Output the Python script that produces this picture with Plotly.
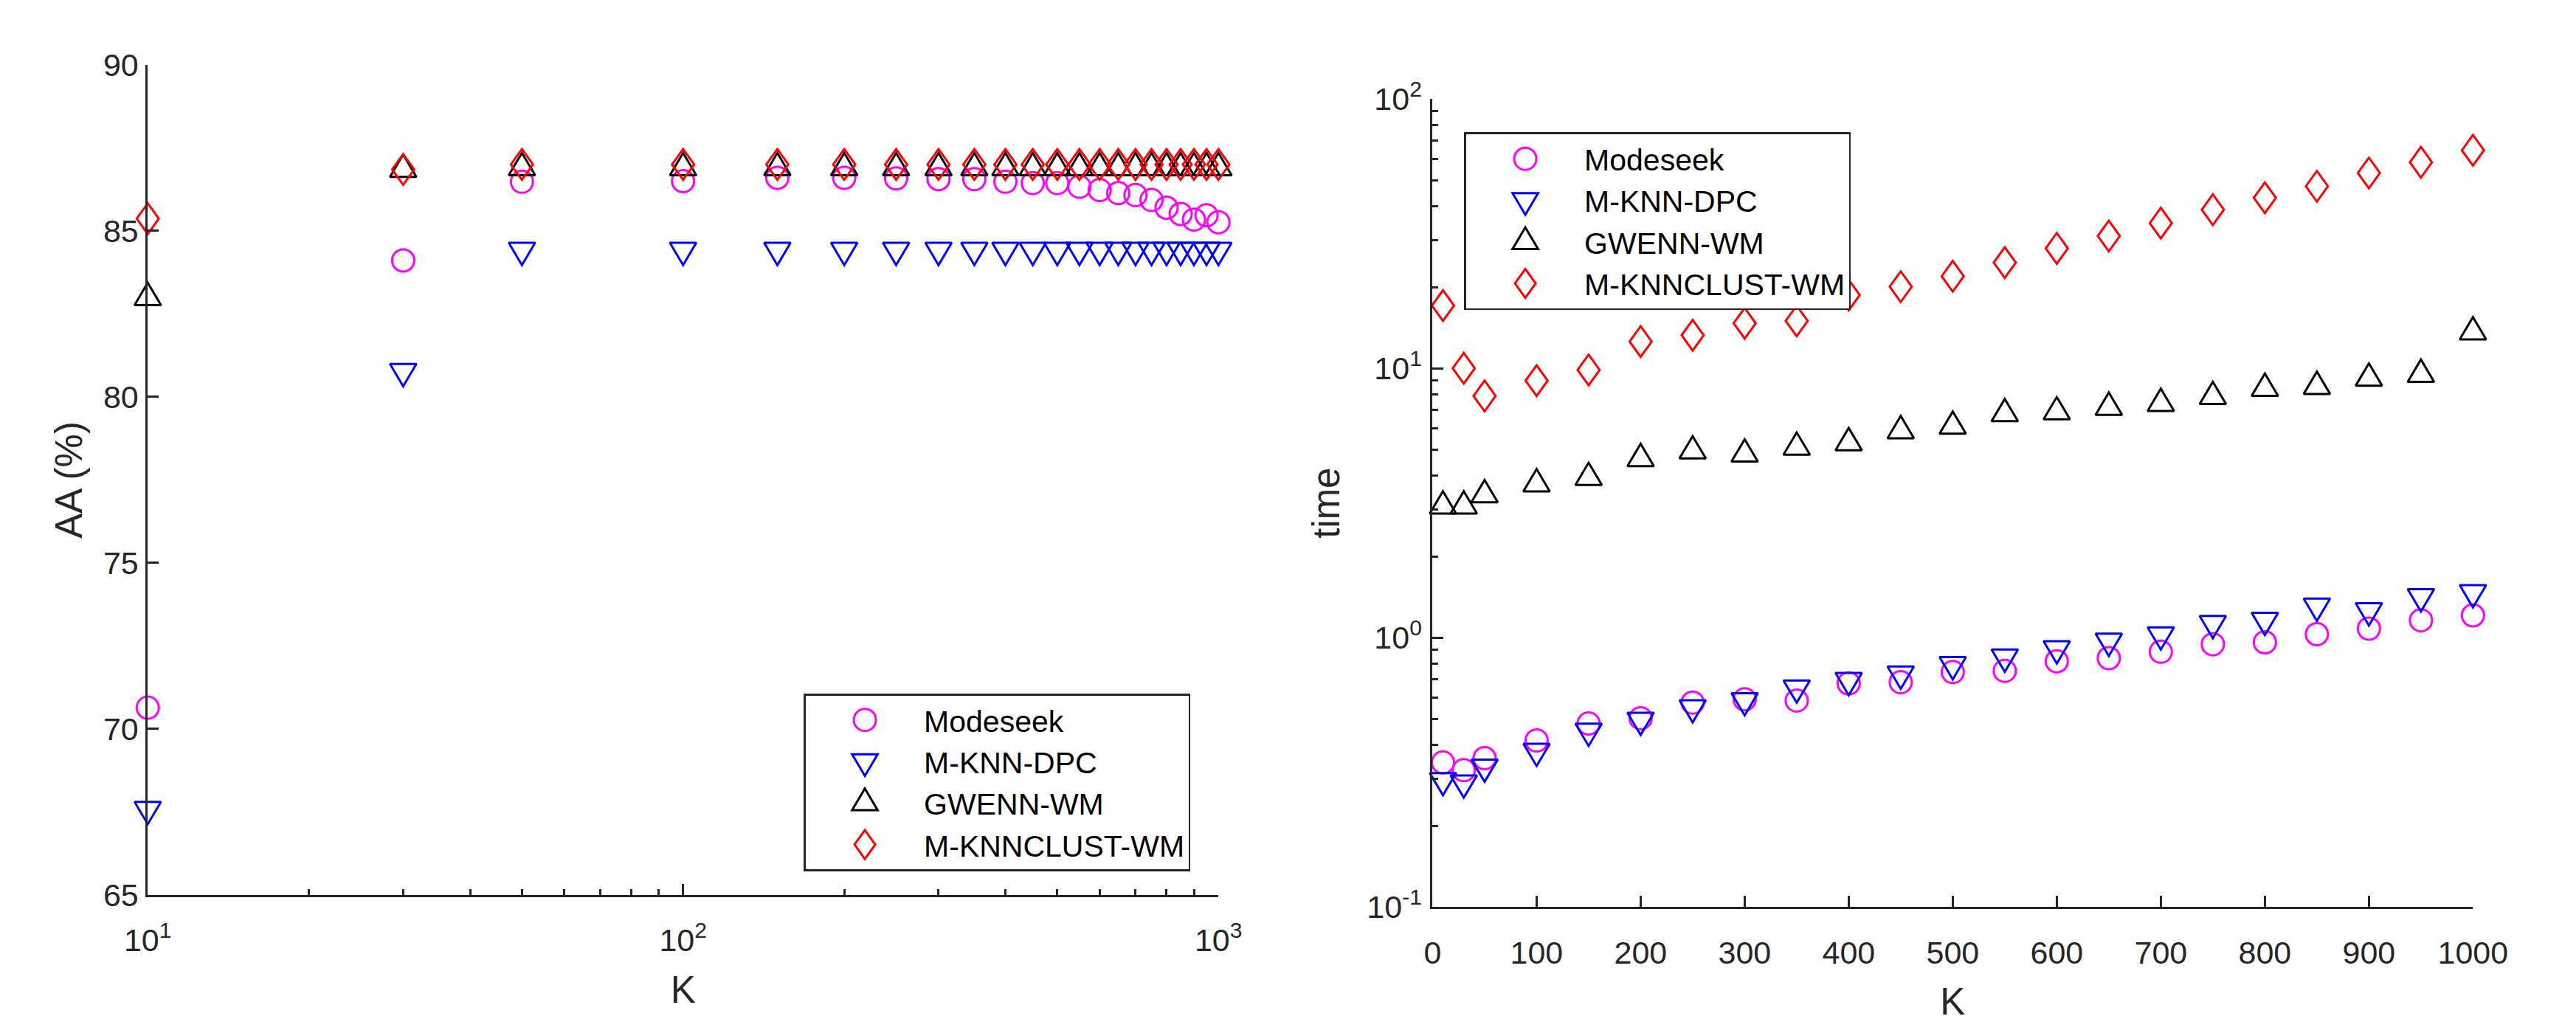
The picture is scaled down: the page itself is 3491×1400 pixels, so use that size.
import plotly.graph_objects as go

# ---------------- data ----------------
K_LEFT = [10, 30, 50, 100, 150, 200, 250, 300, 350, 400, 450, 500, 550, 600, 650, 700, 750, 800, 850, 900, 950, 1000]
AA_MODESEEK = [70.64, 84.11, 86.48, 86.50, 86.60, 86.60, 86.58, 86.56, 86.56, 86.48, 86.44, 86.44, 86.33, 86.23, 86.14, 86.08, 85.93, 85.70, 85.51, 85.34, 85.47, 85.26]
AA_MKNNDPC = [67.58, 80.77, 84.42, 84.42, 84.42, 84.42, 84.42, 84.42, 84.42, 84.42, 84.42, 84.42, 84.42, 84.42, 84.42, 84.42, 84.42, 84.42, 84.42, 84.42, 84.42, 84.42]
AA_GWENN = [82.99, 86.85, 86.90, 86.90, 86.90, 86.90, 86.90, 86.90, 86.90, 86.90, 86.90, 86.90, 86.90, 86.90, 86.90, 86.90, 86.90, 86.90, 86.90, 86.90, 86.90, 86.90]
AA_MKNNCLUST = [85.37, 86.85, 87.00, 87.00, 87.00, 87.00, 87.00, 87.00, 87.00, 87.00, 87.00, 87.00, 87.00, 87.00, 87.00, 87.00, 87.00, 87.00, 87.00, 87.00, 87.00, 87.00]

K_RIGHT = [10, 30, 50, 100, 150, 200, 250, 300, 350, 400, 450, 500, 550, 600, 650, 700, 750, 800, 850, 900, 950, 1000]
T_MODESEEK = [0.344, 0.322, 0.357, 0.415, 0.48, 0.502, 0.574, 0.59, 0.584, 0.676, 0.683, 0.745, 0.753, 0.817, 0.839, 0.886, 0.945, 0.961, 1.03, 1.08, 1.16, 1.21]
T_MKNNDPC = [0.295, 0.289, 0.331, 0.379, 0.45, 0.494, 0.55, 0.584, 0.651, 0.694, 0.733, 0.795, 0.848, 0.91, 0.971, 1.025, 1.13, 1.16, 1.31, 1.26, 1.42, 1.47]
T_GWENN = [3.08, 3.08, 3.39, 3.72, 3.93, 4.62, 4.93, 4.80, 5.09, 5.29, 5.86, 6.09, 6.78, 6.89, 7.16, 7.40, 7.85, 8.42, 8.56, 9.19, 9.49, 13.64]
T_MKNNCLUST = [17.1, 10.0, 7.89, 9.0, 9.86, 12.57, 13.27, 14.7, 15.0, 18.7, 20.1, 21.96, 24.7, 27.9, 31.0, 34.6, 38.8, 42.95, 47.4, 53.1, 58.2, 64.5]

SERIES_NAMES = ["Modeseek", "M-KNN-DPC", "GWENN-WM", "M-KNNCLUST-WM"]
COLORS = ["#FF00FF", "#0000FF", "#000000", "#FF0000"]
SYMBOLS = ["circle-open", "triangle-down-open", "triangle-up-open", "diamond-open"]
SIZES = [30, 31, 31, 32]

LEFT_Y_TICKS = [65, 70, 75, 80, 85, 90]
LEFT_X_TICKS = [10, 100, 1000]
LEFT_X_TICKTEXT = ["10<sup>1</sup>", "10<sup>2</sup>", "10<sup>3</sup>"]
LEFT_X_MINOR = [20, 30, 40, 50, 60, 70, 80, 90, 200, 300, 400, 500, 600, 700, 800, 900]
RIGHT_X_TICKS = [0, 100, 200, 300, 400, 500, 600, 700, 800, 900, 1000]
RIGHT_Y_TICKS = [0.1, 1, 10, 100]
RIGHT_Y_TICKTEXT = ["10<sup>-1</sup>", "10<sup>0</sup>", "10<sup>1</sup>", "10<sup>2</sup>"]
RIGHT_Y_MINOR = [m * d for d in (0.1, 1, 10) for m in range(2, 10)]

# ---------------- figure ----------------
W, H = 3491, 1400
FONT = "Liberation Sans, Arial, Helvetica, sans-serif"
AXC = "#262626"
fig = go.Figure()

left_vals = [AA_MODESEEK, AA_MKNNDPC, AA_GWENN, AA_MKNNCLUST]
right_vals = [T_MODESEEK, T_MKNNDPC, T_GWENN, T_MKNNCLUST]

for name, col, sym, sz, ys in zip(SERIES_NAMES, COLORS, SYMBOLS, SIZES, left_vals):
    fig.add_trace(go.Scatter(
        x=K_LEFT, y=ys, mode="markers", name=name, legend="legend",
        xaxis="x", yaxis="y", cliponaxis=False,
        marker=dict(symbol=sym, size=sz, color=col, line=dict(color=col, width=3)),
    ))

for name, col, sym, sz, ys in zip(SERIES_NAMES, COLORS, SYMBOLS, SIZES, right_vals):
    fig.add_trace(go.Scatter(
        x=K_RIGHT, y=ys, mode="markers", name=name, legend="legend2",
        xaxis="x2", yaxis="y2", cliponaxis=False,
        marker=dict(symbol=sym, size=sz, color=col, line=dict(color=col, width=3)),
    ))

common_axis = dict(
    showline=True, linecolor=AXC, linewidth=2.7, mirror=False,
    ticks="inside", ticklen=15, tickwidth=2.7, tickcolor=AXC,
    showgrid=False, zeroline=False,
    tickfont=dict(family=FONT, size=43, color=AXC),
    title_font=dict(family=FONT, size=51, color=AXC),
)
minor_common = dict(tickmode="array", ticks="inside", ticklen=8, tickwidth=2.7,
                    tickcolor=AXC, showgrid=False)

fig.update_layout(
    width=W, height=H,
    margin=dict(l=0, r=0, t=0, b=0),
    paper_bgcolor="white", plot_bgcolor="white",
    font=dict(family=FONT, size=43, color=AXC),
    xaxis=dict(common_axis, type="log", range=[1, 3], domain=[164 / W, 1649 / W],
               anchor="y", tickmode="array", tickvals=LEFT_X_TICKS, ticktext=LEFT_X_TICKTEXT,
               minor=dict(minor_common, tickvals=LEFT_X_MINOR),
               title=dict(text="K", standoff=26), ticklabelstandoff=22),
    yaxis=dict(common_axis, range=[65, 90], domain=[1 - 1222 / H, 1 - 52 / H], anchor="x",
               tickmode="array", tickvals=LEFT_Y_TICKS,
               title=dict(text="AA (%)", standoff=13), ticklabelstandoff=1),
    xaxis2=dict(common_axis, range=[0, 1000], domain=[1946 / W, 3389 / W], anchor="y2",
                tickmode="array", tickvals=RIGHT_X_TICKS,
                title=dict(text="K", standoff=26), ticklabelstandoff=22),
    yaxis2=dict(common_axis, type="log", range=[-1, 2], domain=[1 - 1239 / H, 1 - 100 / H], anchor="x2",
                tickmode="array", tickvals=RIGHT_Y_TICKS, ticktext=RIGHT_Y_TICKTEXT,
                minor=dict(minor_common, tickvals=RIGHT_Y_MINOR),
                title=dict(text="time", standoff=21), ticklabelstandoff=3),
    legend=dict(x=1074 / W, y=1 - 938 / H, xanchor="left", yanchor="top",
                bgcolor="white", bordercolor=AXC, borderwidth=2.7,
                font=dict(family=FONT, size=41, color="#000000"),
                itemwidth=150, itemsizing="trace", tracegroupgap=0),
    legend2=dict(x=1990 / W, y=1 - 147 / H, xanchor="left", yanchor="top",
                 bgcolor="white", bordercolor=AXC, borderwidth=2.7,
                 font=dict(family=FONT, size=41, color="#000000"),
                 itemwidth=150, itemsizing="trace", tracegroupgap=0),
    showlegend=True,
)

# Plotly caps legend symbols at 16 px (enlarge them to the plot's marker size) and has no
# MATLAB-like narrow diamond / taller triangle, so adjust those marker outlines' proportions.
post = """
var gd = document.getElementById('{plot_id}');
function styleMarkers(){
  gd.querySelectorAll('.infolayer path.scatterpts').forEach(function(p){
    if (p.getAttribute('data-big')) return;
    var t = p.getAttribute('transform') || '';
    p.setAttribute('transform', t + ' scale(1.875)');
    p.setAttribute('vector-effect', 'non-scaling-stroke');
    p.setAttribute('data-big', '1');
  });
  gd.querySelectorAll('path.point, .infolayer path.scatterpts').forEach(function(p){
    if (p.getAttribute('data-shaped')) return;
    var s = (p.style.stroke || '').replace(/\\s/g, '');
    var extra = '';
    if (s === 'rgb(255,0,0)') extra = ' scale(0.72,1)';
    else if (s === 'rgb(0,0,255)' || s === 'rgb(0,0,0)') extra = ' scale(1,1.3)';
    if (extra) {
      p.setAttribute('transform', (p.getAttribute('transform') || '') + extra);
      p.setAttribute('vector-effect', 'non-scaling-stroke');
    }
    p.setAttribute('data-shaped', '1');
  });
}
styleMarkers();
gd.on('plotly_afterplot', styleMarkers);
"""

fig.write_html("out.html", post_script=post)
